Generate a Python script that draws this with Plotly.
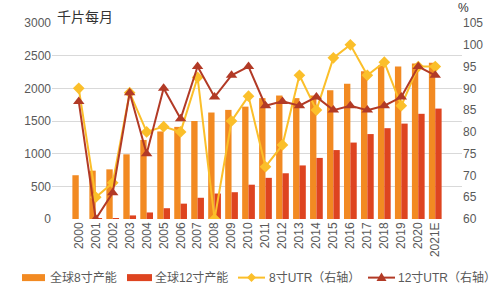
import plotly.graph_objects as go

years = ["2000","2001","2002","2003","2004","2005","2006","2007","2008","2009","2010",
         "2011","2012","2013","2014","2015","2016","2017","2018","2019","2020","2021E"]
cap8 = [670, 740, 760, 990, 1210, 1340, 1410, 1500, 1630, 1670, 1720,
        1850, 1890, 1850, 1890, 1970, 2070, 2260, 2350, 2335, 2380, 2390]
cap12 = [0, 10, 15, 55, 100, 165, 235, 325, 390, 410, 525,
         630, 700, 820, 935, 1055, 1170, 1300, 1390, 1460, 1610, 1690]
utr8 = [90, 65, 68.3, 89, 80, 81.2, 80, 92.5, 60, 82.5, 88.2,
        72, 77, 93, 85, 97, 100, 93, 96, 86, 95, 95]
utr12 = [87, 60, 66, 89, 75, 90, 83, 95, 88, 93, 95,
         86, 87, 86, 88, 85, 86, 85, 86, 88, 95, 93]
names = ["全球8寸产能", "全球12寸产能", "8寸UTR（右轴）", "12寸UTR（右轴）"]

C8 = "#F28A22"
C12 = "#DE4420"
CY = "#FBBF2A"
CR = "#B23A26"
FONT = "Liberation Sans, Arial, Noto Sans CJK SC, sans-serif"
CJK = "Noto Sans CJK SC, sans-serif"
GRAY = "#595959"

# plot area in pixels
L, R, T, B = 52, 462, 23, 219.3
W, H = R - L, B - T

def px(x):
    return (x - L) / W

def py(y):
    return (B - y) / H

fig = go.Figure()
fig.add_trace(go.Bar(x=years, y=cap8, name=names[0], marker_color=C8, marker_line_width=0))
fig.add_trace(go.Bar(x=years, y=cap12, name=names[1], marker_color=C12, marker_line_width=0))
fig.add_trace(go.Scatter(x=years, y=utr8, name=names[2], yaxis="y2", mode="lines+markers",
                         line=dict(color=CY, width=2),
                         marker=dict(symbol="diamond", size=9, color=CY)))
fig.add_trace(go.Scatter(x=years, y=utr12, name=names[3], yaxis="y2", mode="lines+markers",
                         line=dict(color=CR, width=2),
                         marker=dict(symbol="triangle-up", size=10, color=CR)))

fig.update_layout(
    width=500, height=297,
    margin=dict(l=L, r=500 - R, t=T, b=297 - B),
    plot_bgcolor="white", paper_bgcolor="white",
    barmode="group", bargap=0.25, bargroupgap=0,
    font=dict(family=FONT, size=12, color=GRAY),
    showlegend=False,
    xaxis=dict(type="category", tickangle=-90, tickfont=dict(size=12, color=GRAY),
               showgrid=False, showline=False, ticks="", automargin=False),
    yaxis=dict(range=[0, 3000], dtick=500, showgrid=True, gridcolor="#D9D9D9",
               gridwidth=1, zeroline=False, tickfont=dict(size=12, color=GRAY),
               ticks="", automargin=False),
    yaxis2=dict(range=[60, 105], dtick=5, overlaying="y", side="right",
                showgrid=False, zeroline=False, tickfont=dict(size=12, color=GRAY),
                ticks="", automargin=False),
)

fig.add_annotation(text="千片每月", xref="paper", yref="paper", x=px(55), y=py(16),
                   xanchor="left", yanchor="middle", showarrow=False,
                   font=dict(size=14, color="#333333", family=CJK))
fig.add_annotation(text="%", xref="paper", yref="paper", x=px(463), y=py(8),
                   xanchor="center", yanchor="middle", showarrow=False,
                   font=dict(size=12, color="#333333", family=FONT))

# manual legend
ly = 278
for x0, x1, c in [(22, 45, C8), (127, 152, C12)]:
    fig.add_shape(type="rect", xref="paper", yref="paper",
                  x0=px(x0), x1=px(x1), y0=py(ly + 3.5), y1=py(ly - 3.5),
                  fillcolor=c, line=dict(width=0))
for x0, x1, c in [(238, 265, CY), (368, 395, CR)]:
    fig.add_shape(type="line", xref="paper", yref="paper",
                  x0=px(x0), x1=px(x1), y0=py(ly), y1=py(ly),
                  line=dict(color=c, width=2))
cx = 251.5
d = 4.5
fig.add_shape(type="path", xref="paper", yref="paper",
              path=f"M {px(cx)},{py(ly-d)} L {px(cx+d)},{py(ly)} L {px(cx)},{py(ly+d)} L {px(cx-d)},{py(ly)} Z",
              fillcolor=CY, line=dict(width=0))
cx = 381.5
fig.add_shape(type="path", xref="paper", yref="paper",
              path=f"M {px(cx)},{py(ly-5)} L {px(cx+5)},{py(ly+3.5)} L {px(cx-5)},{py(ly+3.5)} Z",
              fillcolor=CR, line=dict(width=0))
for tx, name in zip([48, 153, 267, 396], names):
    fig.add_annotation(text=name, xref="paper", yref="paper", x=px(tx), y=py(ly),
                       xanchor="left", yanchor="middle", showarrow=False,
                       font=dict(size=12, color=GRAY, family=FONT))

fig.write_html("out.html")
